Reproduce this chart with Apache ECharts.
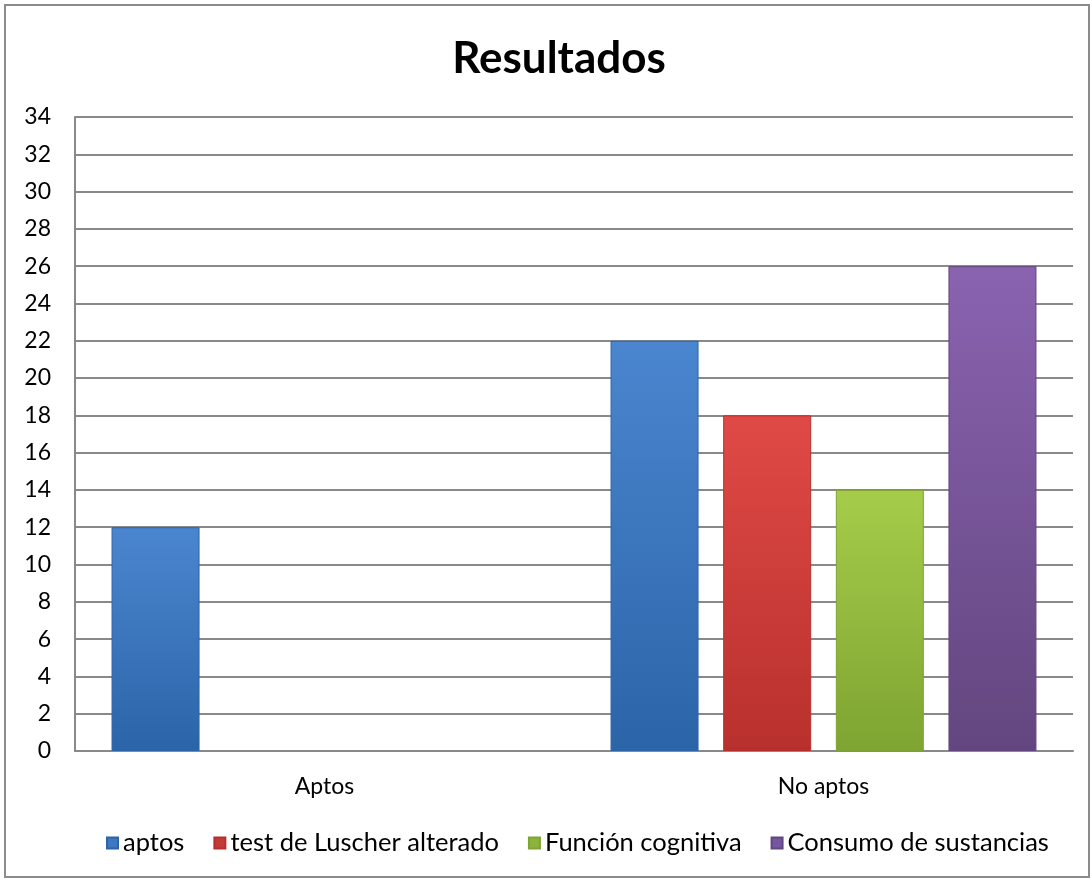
<!DOCTYPE html>
<html>
<head>
<meta charset="utf-8">
<script src="https://cdn.jsdelivr.net/npm/echarts@6/dist/echarts.min.js"></script>
<style>
html, body { margin: 0; padding: 0; background: #fff; }
#main { width: 1092px; height: 880px; }
</style>
</head>
<body>
<div id="main"></div>
<script>
var categories = ['Aptos', 'No aptos'];
var seriesNames = ['aptos', 'test de Luscher alterado', 'Función cognitiva', 'Consumo de sustancias'];
var aptos = [12, 22];
var luscher = [0, 18];
var cognitiva = [0, 14];
var consumo = [0, 26];
var values = [aptos, luscher, cognitiva, consumo];

var colors = [
  ['#4a86cf', '#2c64a8'],
  ['#e04a46', '#b8302d'],
  ['#a6cc4a', '#7ea432'],
  ['#8a63b0', '#63467f']
];
var legendColors = ['#3f77c0', '#c33b37', '#8db33e', '#7656a0'];

var font = 'Lato, "Open Sans", sans-serif';

var chart = echarts.init(document.getElementById('main'));

var series = values.map(function (d, i) {
  return {
    name: seriesNames[i],
    type: 'bar',
    data: d.map(function (v) { return v === 0 ? null : v; }),
    barWidth: 88,
    barGap: '28%',
    itemStyle: {
      color: new echarts.graphic.LinearGradient(0, 0, 0, 1, [
        { offset: 0, color: colors[i][0] },
        { offset: 1, color: colors[i][1] }
      ]),
      borderColor: colors[i][1],
      borderWidth: 1
    }
  };
});

chart.setOption({
  animation: false,
  title: {
    text: 'Resultados',
    left: 554,
    textAlign: 'center',
    top: 32,
    textStyle: { fontFamily: font, fontSize: 44, fontWeight: 'bold', color: '#000' }
  },
  legend: {
    data: seriesNames.map(function (n, i) {
      return { name: n, itemStyle: { color: legendColors[i] } };
    }),
    bottom: 19,
    left: 101,
    icon: 'rect',
    itemWidth: 11,
    itemHeight: 11,
    itemGap: 29,
    textStyle: { fontFamily: font, fontSize: 25.5, color: '#000' }
  },
  grid: { left: 75, right: 19, top: 117, bottom: 129 },
  xAxis: {
    type: 'category',
    data: categories,
    axisLine: { lineStyle: { color: '#898989', width: 2 } },
    axisTick: { show: false },
    axisLabel: { fontFamily: font, fontSize: 23, color: '#000', margin: 24 }
  },
  yAxis: {
    type: 'value',
    min: 0,
    max: 34,
    interval: 2,
    axisLine: { show: true, lineStyle: { color: '#898989', width: 2 } },
    axisTick: { show: false },
    splitLine: { lineStyle: { color: '#898989', width: 2 } },
    axisLabel: { fontFamily: font, fontSize: 23, color: '#000', margin: 24 }
  },
  graphic: [{
    type: 'rect',
    shape: { x: 5, y: 5, width: 1084, height: 872 },
    style: { fill: 'none', stroke: '#8c8c8c', lineWidth: 2 },
    silent: true
  }],
  series: series
});
</script>
</body>
</html>
